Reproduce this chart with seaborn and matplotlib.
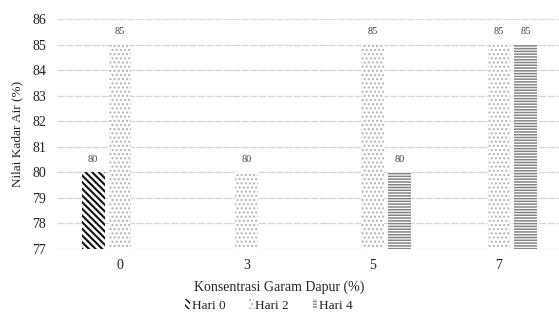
import numpy as np
import pandas as pd
import matplotlib
matplotlib.use("Agg")
import matplotlib.pyplot as plt
import seaborn as sns
from matplotlib.patches import Patch

# Water content (%) by kitchen-salt concentration and storage day
konsentrasi = ["0", "3", "5", "7"]
hari_0 = [80, np.nan, np.nan, np.nan]
hari_2 = [85, 80, 85, 85]
hari_4 = [np.nan, np.nan, 80, 85]
seri = ["Hari 0", "Hari 2", "Hari 4"]
y_ticks = [77, 78, 79, 80, 81, 82, 83, 84, 85, 86]

rows = []
for nama, vals in zip(seri, [hari_0, hari_2, hari_4]):
    for k, v in zip(konsentrasi, vals):
        rows.append({"Konsentrasi": k, "Hari": nama, "Nilai": v})
df = pd.DataFrame(rows).dropna()

sns.set_theme(style="white")
plt.rcParams["font.family"] = ["Liberation Serif", "DejaVu Serif"]

TXT = "#222222"

fig = plt.figure(figsize=(5.59, 3.2), dpi=100)
ax = fig.add_axes([57 / 559, 1 - 249 / 320, 505 / 559, 230 / 320])

ax.set_axisbelow(True)
ax.yaxis.grid(True, color="#d6d6d6", linewidth=0.9, linestyle=(0, (6, 1)))

sns.barplot(data=df, x="Konsentrasi", y="Nilai", hue="Hari",
            order=konsentrasi, hue_order=seri, width=0.64, gap=0.16,
            ax=ax, legend=False, errorbar=None, saturation=1)

# fill pattern per storage day
styles = {
    "Hari 0": dict(hatch="\\\\\\\\\\", edge="#111111", lw=1.5),
    "Hari 2": dict(hatch="....", edge="#b4b4b4", lw=1.0),
    "Hari 4": dict(hatch="------", edge="#858585", lw=1.1),
}


def apply_style(patch, st):
    patch.set_facecolor("white")
    patch.set_edgecolor(st["edge"])
    patch.set_hatch(st["hatch"])
    patch.set_linewidth(0)
    if hasattr(patch, "set_hatch_linewidth"):
        patch.set_hatch_linewidth(st["lw"])


for cont, nama in zip(ax.containers, seri):
    for bar in cont:
        apply_style(bar, styles[nama])
    ax.bar_label(cont, fmt="%.0f", padding=6, fontsize=7.5, color="#404040")

ax.set_ylim(77, 86)
ax.set_yticks(y_ticks)
ax.set_xlim(-0.5, 3.5)
for s in ax.spines.values():
    s.set_visible(False)
ax.tick_params(axis="both", length=0, labelsize=10, colors=TXT, pad=7)
ax.tick_params(axis="y", pad=8)
ax.set_ylabel("Nilai Kadar Air (%)", fontsize=9.5, color=TXT, labelpad=6)
ax.set_xlabel("Konsentrasi Garam Dapur (%)", fontsize=10, color=TXT)
ax.xaxis.set_label_coords((279 - 57) / 505, -0.135)

handles = []
for nama in seri:
    p = Patch(label=nama)
    apply_style(p, styles[nama])
    handles.append(p)
fig.legend(handles=handles, loc="center", bbox_to_anchor=(269 / 559, 0.045), ncol=3,
           frameon=False, fontsize=9.5, handlelength=0.35, handleheight=0.7,
           handletextpad=0.15, columnspacing=1.8, labelcolor=TXT)

fig.savefig("out.png", dpi=100)
